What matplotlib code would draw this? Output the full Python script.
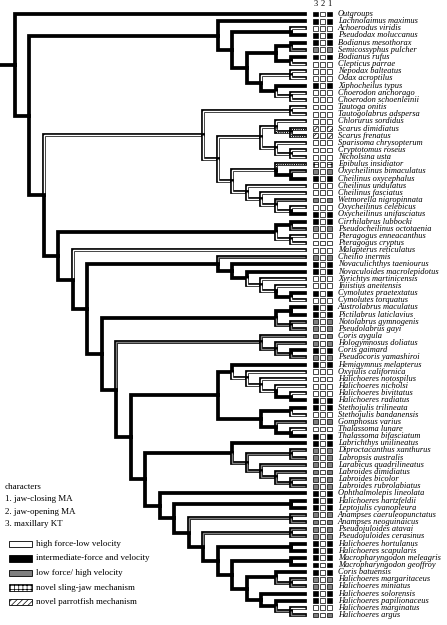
import matplotlib
matplotlib.use("Agg")
import matplotlib.pyplot as plt
import matplotlib.patheffects as pe
from matplotlib.patches import Rectangle

plt.rcParams["font.family"] = ["Liberation Serif", "DejaVu Serif"]
plt.rcParams["hatch.linewidth"] = 0.5

species = [
    "Outgroups", "Lachnolaimus maximus", "Achoerodus viridis", "Pseudodax moluccanus",
    "Bodianus mesothorax", "Semicossyphus pulcher", "Bodianus rufus", "Clepticus parrae",
    "Nepodax balteatus", "Odax acroptilus", "Xiphocheilus typus", "Choerodon anchorago",
    "Choerodon schoenleinii", "Tautoga onitis", "Tautogolabrus adspersa", "Chlorurus sordidus",
    "Scarus dimidiatus", "Scarus frenatus", "Sparisoma chrysopterum", "Cryptotomus roseus",
    "Nicholsina usta", "Epibulus insidiator", "Oxycheilinus bimaculatus", "Cheilinus oxycephalus",
    "Cheilinus undulatus", "Cheilinus fasciatus", "Wetmorella nigropinnata", "Oxycheilinus celebicus",
    "Oxycheilinus unifasciatus", "Cirrhilabrus lubbocki", "Pseudocheilinus octotaenia",
    "Pteragogus enneacanthus", "Pteragogus cryptus", "Malapterus reticulatus", "Cheilio inermis",
    "Novaculichthys taeniourus", "Novaculoides macrolepidotus", "Xyrichtys martinicensis",
    "Iniistius aneitensis", "Cymolutes praetextatus", "Cymolutes torquatus",
    "Austrolabrus maculatus", "Pictilabrus laticlavius", "Notolabrus gymnogenis",
    "Pseudolabrus gayi", "Coris aygula", "Hologymnosus doliatus", "Coris gaimard",
    "Pseudocoris yamashiroi", "Hemigymnus melapterus", "Oxyjulis californica",
    "Halichoeres notospilus", "Halichoeres nicholsi", "Halichoeres bivittatus",
    "Halichoeres radiatus", "Stethojulis trilineata", "Stethojulis bandanensis",
    "Gomphosus varius", "Thalassoma lunare", "Thalassoma bifasciatum", "Labrichthys unilineatus",
    "Diproctacanthus xanthurus", "Labropsis australis", "Larabicus quadrilineatus",
    "Labroides dimidiatus", "Labroides bicolor", "Labroides rubrolabiatus",
    "Ophthalmolepis lineolata", "Halichoeres hartzfeldii", "Leptojulis cyanopleura",
    "Anampses caeruleopunctatus", "Anampses neoguinaicus", "Pseudojuloides atavai",
    "Pseudojuloides cerasinus", "Halichoeres hortulanus", "Halichoeres scapularis",
    "Macropharyngodon meleagris", "Macropharyngodon geoffroy", "Coris batuensis",
    "Halichoeres margaritaceus", "Halichoeres miniatus", "Halichoeres solorensis",
    "Halichoeres papilionaceus", "Halichoeres marginatus", "Halichoeres argus",
]

# states: w high force-low velocity, b intermediate, g low force/high velocity,
# s novel sling-jaw, p novel parrotfish
jaw_closing = ("bbwbb" "gbwww" "bwwww" "wppww" "wsgbw" "wgwbb" "gwwwg" "bbwwb" "wbbgg"
               "ggbgb" "wwwwb" "bwgwb" "bgggg" "ggbbb" "ggggb" "bbbbg" "gbbwg")
jaw_opening = "w" * 85
maxillary_kt = jaw_closing

# cladogram, tips are indices into species, letters after ")" = reconstructed state of that stem
tree = ("(0,"
        "((1,((2,3)b,(((4,5)b,(6,7)b)b,((8,9)w,(10,(11,12)w)b)b)b)b)b,"
        "(((13,14)w,(((15,(16,17)p)w,(18,(19,20)w)w)w,((21,(22,23)b)w,(24,(25,(26,(27,28)w)w)w)w)w)w)w,"
        "(((29,30)b,(31,32)w)b,"
        "(33,"
        "((34,(35,(36,(37,(38,(39,40)b)w)w)b)b)b,"
        "(((41,42)b,(43,44)g)b,"
        "((45,(46,(47,48)g)g)g,"
        "(((49,(50,(51,(52,(53,54)b)w)w)w)b,((55,56)b,(57,(58,59)b)b)b)b,"
        "((60,((61,62)g,(63,(64,(65,66)g)g)g)g)b,"
        "(67,((68,69)b,((70,71)g,((72,73)g,((74,75)b,((76,77)b,((78,(79,80)g)b,(81,(82,(83,84)g)b)b)b)b)b)b)b)b)b"
        ")b)b)b)b)b)b)b)b)b)b")

FILL = {"w": "white", "b": "black", "g": "#808080", "s": "white", "p": "white"}
HATCH = {"s": "++++", "p": "//////"}


def parse(s):
    pos = 0

    def node():
        nonlocal pos
        if s[pos] == "(":
            pos += 1
            kids = [node()]
            while s[pos] == ",":
                pos += 1
                kids.append(node())
            pos += 1
            col = ""
            while pos < len(s) and s[pos].isalpha():
                col += s[pos]
                pos += 1
            return {"kids": kids, "col": col or "b"}
        j = pos
        while s[pos].isdigit():
            pos += 1
        t = int(s[j:pos])
        return {"kids": [], "tip": t, "col": jaw_closing[t]}
    return node()


def layout(n):
    if not n["kids"]:
        n["h"], n["y"] = 0, n["tip"]
        return
    for k in n["kids"]:
        layout(k)
    n["h"] = 1 + max(k["h"] for k in n["kids"])
    n["y"] = (n["kids"][0]["y"] + n["kids"][-1]["y"]) / 2


fig = plt.figure(figsize=(4.47, 6.25), dpi=100)
ax = fig.add_axes([0, 0, 1, 1])
ax.set_xlim(21.03, -9.79)
ax.set_ylim(85.39, -1.96)
ax.axis("off")


def branch(xs, ys, c):
    if c == "b":
        ax.plot(xs, ys, color="black", lw=2.7, solid_joinstyle="miter", solid_capstyle="projecting")
        return
    ax.plot(xs, ys, color=FILL[c], lw=1.0, solid_joinstyle="miter", solid_capstyle="butt",
            path_effects=[pe.Stroke(linewidth=2.7, foreground="black", capstyle="projecting",
                                    joinstyle="miter"), pe.Normal()])
    if c in "sp":
        ax.plot(xs, ys, color="black", lw=1.0, dashes=(0.8, 0.8))


def draw(n):
    for k in n["kids"]:
        branch([n["h"], n["h"], k["h"]], [n["y"], k["y"], k["y"]], k["col"])
        draw(k)


root = parse(tree)
layout(root)
branch([root["h"], 30], [root["y"], root["y"]], "b")
draw(root)

# character boxes
col_h = [-0.72, -1.21, -1.69]
bw, bh = 0.36, 0.68
for j, states in enumerate([maxillary_kt, jaw_opening, jaw_closing]):
    ax.text(col_h[j], -1.45, str(3 - j), ha="center", va="center", fontsize=6)
    for i, st in enumerate(states):
        ax.add_patch(Rectangle((col_h[j] - bw / 2, i - bh / 2), bw, bh, facecolor=FILL[st],
                               edgecolor="black", lw=0.5, hatch=HATCH.get(st)))

for i, name in enumerate(species):
    ax.text(-2.27, i, name, ha="left", va="center", fontsize=6.0, style="italic")

# legend
lg = fig.add_axes([0, 0, 1, 1])
lg.set_xlim(0, 447)
lg.set_ylim(625, 0)
lg.axis("off")
for k, t in enumerate(["characters", "1. jaw-closing MA", "2. jaw-opening MA", "3. maxillary KT"]):
    lg.text(5, 487 + 12.3 * k, t, fontsize=6.5, va="center")
legend_states = ["w", "b", "g", "s", "p"]
legend_labels = ["high force-low velocity", "intermediate-force and velocity",
                 "low force/ high velocity", "novel sling-jaw mechanism",
                 "novel parrotfish mechanism"]
for k, (st, t) in enumerate(zip(legend_states, legend_labels)):
    yy = 544 + 14.5 * k
    lg.add_patch(Rectangle((9, yy - 3.3), 23, 6.6, facecolor=FILL[st], edgecolor="black",
                           lw=0.6, hatch=HATCH.get(st)))
    lg.text(36, yy, t, fontsize=6.5, va="center")

fig.savefig("out.png", dpi=100)
